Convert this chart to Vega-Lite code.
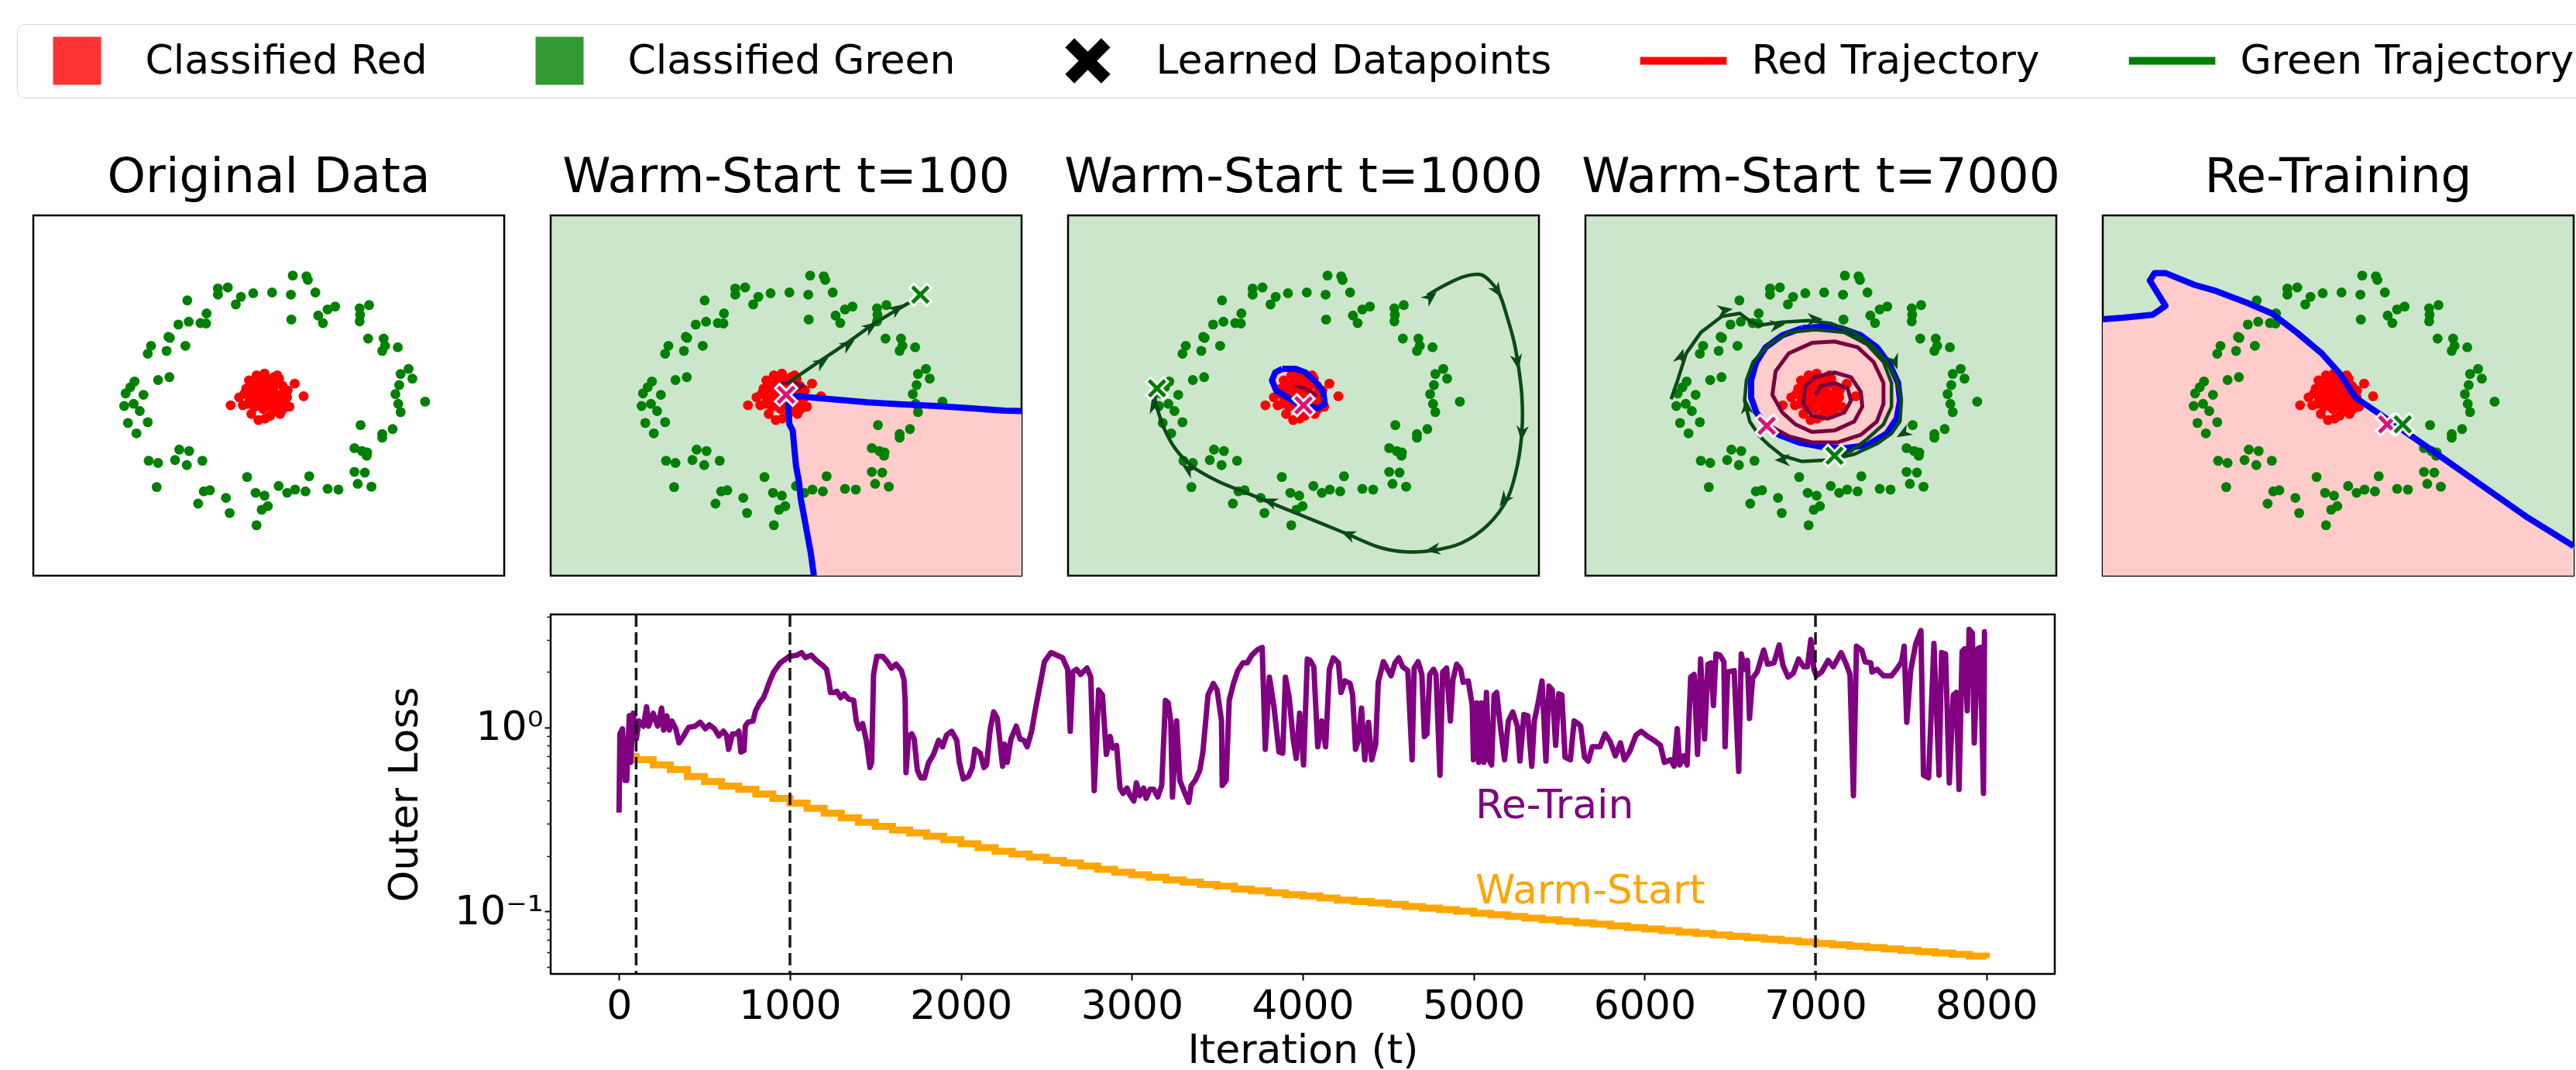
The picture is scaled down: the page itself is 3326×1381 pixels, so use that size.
{
"$schema":"https://vega.github.io/schema/vega-lite/v6.json",
"background":"white",
"padding":{"left":21,"top":30,"right":0,"bottom":0},
"config":{
 "font":"DejaVu Sans",
 "view":{"stroke":"black","strokeWidth":2.5},
 "title":{"fontSize":63,"fontWeight":"normal","color":"black","offset":17,"baseline":"alphabetic","anchor":"middle","font":"DejaVu Sans"},
 "axis":{"labelFont":"DejaVu Sans","titleFont":"DejaVu Sans","labelColor":"black","titleColor":"black","tickColor":"black","domain":false,"grid":false,"titleFontWeight":"normal"}
},
"datasets":{
"pts":[
{"x":55.1,"y":83.3,"c":"g"},{"x":58.0,"y":83.1,"c":"g"},{"x":58.3,"y":82.1,"c":"g"},{"x":59.9,"y":78.6,"c":"g"},{"x":54.7,"y":78.0,"c":"g"},{"x":50.7,"y":78.6,"c":"g"},{"x":46.7,"y":78.4,"c":"g"},{"x":44.1,"y":77.4,"c":"g"},{"x":43.0,"y":75.3,"c":"g"},{"x":39.2,"y":79.7,"c":"g"},{"x":41.3,"y":80.0,"c":"g"},{"x":39.2,"y":78.0,"c":"g"},{"x":32.7,"y":76.4,"c":"g"},{"x":36.8,"y":72.8,"c":"g"},{"x":35.5,"y":70.1,"c":"g"},{"x":36.7,"y":70.0,"c":"g"},{"x":33.0,"y":70.5,"c":"g"},{"x":30.8,"y":69.7,"c":"g"},{"x":28.7,"y":66.3,"c":"g"},{"x":29.0,"y":66.0,"c":"g"},{"x":28.3,"y":62.4,"c":"g"},{"x":32.3,"y":63.8,"c":"g"},{"x":25.0,"y":63.8,"c":"g"},{"x":24.3,"y":61.6,"c":"g"},{"x":54.8,"y":71.1,"c":"g"},{"x":60.5,"y":72.2,"c":"g"},{"x":61.5,"y":70.1,"c":"g"},{"x":62.5,"y":73.9,"c":"g"},{"x":64.1,"y":74.7,"c":"g"},{"x":69.3,"y":74.2,"c":"g"},{"x":71.3,"y":75.1,"c":"g"},{"x":69.4,"y":72.4,"c":"g"},{"x":69.3,"y":70.6,"c":"g"},{"x":71.1,"y":65.8,"c":"g"},{"x":74.4,"y":65.8,"c":"g"},{"x":74.7,"y":63.8,"c":"g"},{"x":74.1,"y":62.4,"c":"g"},{"x":77.4,"y":63.4,"c":"g"},
{"x":26.5,"y":54.3,"c":"g"},{"x":28.9,"y":55.1,"c":"g"},{"x":21.5,"y":53.9,"c":"g"},{"x":20.6,"y":52.3,"c":"g"},{"x":19.6,"y":50.6,"c":"g"},{"x":23.4,"y":50.2,"c":"g"},{"x":19.3,"y":47.1,"c":"g"},{"x":21.3,"y":47.7,"c":"g"},{"x":22.6,"y":45.7,"c":"g"},{"x":20.1,"y":42.4,"c":"g"},{"x":24.3,"y":42.6,"c":"g"},{"x":21.9,"y":39.5,"c":"g"},
{"x":79.7,"y":57.4,"c":"g"},{"x":78.0,"y":56.0,"c":"g"},{"x":80.5,"y":54.7,"c":"g"},{"x":77.7,"y":52.9,"c":"g"},{"x":76.9,"y":50.4,"c":"g"},{"x":77.5,"y":47.7,"c":"g"},{"x":78.0,"y":45.4,"c":"g"},{"x":83.2,"y":48.3,"c":"g"},{"x":69.5,"y":41.8,"c":"g"},{"x":76.3,"y":40.7,"c":"g"},{"x":74.1,"y":39.3,"c":"g"},{"x":74.1,"y":38.3,"c":"g"},
{"x":68.2,"y":35.4,"c":"g"},{"x":69.8,"y":34.6,"c":"g"},{"x":70.9,"y":34.2,"c":"g"},{"x":70.8,"y":33.3,"c":"g"},{"x":68.2,"y":28.8,"c":"g"},{"x":70.4,"y":28.6,"c":"g"},{"x":68.9,"y":25.5,"c":"g"},{"x":71.8,"y":24.7,"c":"g"},
{"x":58.6,"y":27.6,"c":"g"},{"x":52.1,"y":24.9,"c":"g"},{"x":53.9,"y":23.0,"c":"g"},{"x":55.6,"y":23.9,"c":"g"},{"x":57.8,"y":23.4,"c":"g"},{"x":62.5,"y":24.1,"c":"g"},{"x":64.8,"y":23.9,"c":"g"},{"x":45.4,"y":27.4,"c":"g"},{"x":47.2,"y":23.0,"c":"g"},{"x":49.1,"y":22.2,"c":"g"},{"x":49.8,"y":19.3,"c":"g"},{"x":48.5,"y":18.3,"c":"g"},{"x":47.4,"y":14.0,"c":"g"},{"x":40.9,"y":21.6,"c":"g"},{"x":41.7,"y":17.4,"c":"g"},{"x":35.0,"y":20.0,"c":"g"},{"x":36.2,"y":23.4,"c":"g"},{"x":37.5,"y":23.7,"c":"g"},
{"x":24.5,"y":31.9,"c":"g"},{"x":26.5,"y":31.3,"c":"g"},{"x":31.0,"y":35.0,"c":"g"},{"x":33.1,"y":34.6,"c":"g"},{"x":30.1,"y":32.1,"c":"g"},{"x":32.6,"y":30.7,"c":"g"},{"x":35.9,"y":31.9,"c":"g"},{"x":26.2,"y":24.6,"c":"g"},
{"x":41.9,"y":47.3,"c":"r"},{"x":43.7,"y":49.5,"c":"r"},{"x":44.5,"y":47.3,"c":"r"},{"x":57.4,"y":49.8,"c":"r"},{"x":55.5,"y":53.3,"c":"r"},{"x":49.1,"y":56.1,"c":"r"},{"x":47.8,"y":43.2,"c":"r"},{"x":52.4,"y":44.9,"c":"r"},{"x":54.4,"y":46.9,"c":"r"},{"x":51.8,"y":55.6,"c":"r"},{"x":45.8,"y":54.2,"c":"r"},{"x":45.2,"y":51.9,"c":"r"},{"x":46.3,"y":44.9,"c":"r"},{"x":50.3,"y":44.4,"c":"r"},{"x":53.3,"y":48.1,"c":"r"},{"x":51.1,"y":55.1,"c":"r"},{"x":47.4,"y":55.6,"c":"r"},{"x":54.0,"y":51.4,"c":"r"},{"x":48.8,"y":46.3,"c":"r"},{"x":51.8,"y":53.5,"c":"r"},{"x":46.7,"y":51.0,"c":"r"},{"x":48.1,"y":51.9,"c":"r"},{"x":49.6,"y":50.6,"c":"r"},{"x":51.1,"y":51.0,"c":"r"},{"x":52.5,"y":50.2,"c":"r"},{"x":48.9,"y":48.6,"c":"r"},{"x":50.3,"y":48.1,"c":"r"},{"x":47.4,"y":49.0,"c":"r"},{"x":51.8,"y":48.1,"c":"r"},{"x":49.6,"y":53.1,"c":"r"},{"x":47.8,"y":53.5,"c":"r"},{"x":51.1,"y":52.7,"c":"r"},{"x":48.9,"y":46.9,"c":"r"},{"x":50.7,"y":46.5,"c":"r"},{"x":47.0,"y":46.9,"c":"r"},{"x":52.9,"y":52.7,"c":"r"},{"x":45.9,"y":49.4,"c":"r"},{"x":53.3,"y":51.0,"c":"r"},{"x":48.5,"y":50.2,"c":"r"},{"x":50.0,"y":49.0,"c":"r"},{"x":49.2,"y":43.6,"c":"r"},{"x":51.4,"y":45.7,"c":"r"},{"x":45.6,"y":47.7,"c":"r"},{"x":52.2,"y":54.7,"c":"r"},{"x":46.5,"y":52.8,"c":"r"},{"x":53.0,"y":46.2,"c":"r"},{"x":49.9,"y":54.5,"c":"r"},{"x":50.9,"y":47.4,"c":"r"},{"x":47.9,"y":47.8,"c":"r"},{"x":52.0,"y":49.4,"c":"r"},{"x":46.8,"y":48.2,"c":"r"},{"x":49.4,"y":52.1,"c":"r"},{"x":53.9,"y":49.5,"c":"r"},{"x":48.4,"y":54.6,"c":"r"},{"x":50.6,"y":53.8,"c":"r"},{"x":44.8,"y":50.5,"c":"r"}
],
"p2":[{"x":50.4,"y":49.8,"y2":47.3},{"x":50.7,"y":49.8,"y2":42.0},{"x":51.4,"y":49.8,"y2":40.3},{"x":51.8,"y":49.8,"y2":34.6},{"x":52.1,"y":49.8,"y2":30.5},{"x":52.7,"y":49.7,"y2":26.3},{"x":53.1,"y":49.7,"y2":21.4},{"x":53.8,"y":49.6,"y2":16.5},{"x":54.5,"y":49.5,"y2":11.5},{"x":55.2,"y":49.5,"y2":6.6},{"x":55.9,"y":49.4,"y2":0},{"x":59.7,"y":49.0,"y2":0},{"x":67.3,"y":48.1,"y2":0},{"x":74.3,"y":47.6,"y2":0},{"x":81.9,"y":47.1,"y2":0},{"x":88.8,"y":46.5,"y2":0},{"x":96.4,"y":45.8,"y2":0},{"x":100,"y":45.7,"y2":0}],
"b2":[{"i":0,"x":55.9,"y":0},{"i":1,"x":55.2,"y":6.6},{"i":2,"x":54.5,"y":11.5},{"i":3,"x":53.8,"y":16.5},{"i":4,"x":53.1,"y":21.4},{"i":5,"x":52.7,"y":26.3},{"i":6,"x":52.1,"y":30.5},{"i":7,"x":51.8,"y":34.6},{"i":8,"x":51.4,"y":40.3},{"i":9,"x":50.7,"y":42.0},{"i":10,"x":50.4,"y":47.3},{"i":11,"x":51.5,"y":49.9},{"i":12,"x":59.7,"y":49.0},{"i":13,"x":67.3,"y":48.1},{"i":14,"x":74.3,"y":47.6},{"i":15,"x":81.9,"y":47.1},{"i":16,"x":88.8,"y":46.5},{"i":17,"x":96.4,"y":45.8},{"i":18,"x":100,"y":45.7}],
"rt2":[{"i":0,"x":47.3,"y":51.9},{"i":1,"x":49.3,"y":53.5},{"i":2,"x":52.1,"y":53.5},{"i":3,"x":53.5,"y":52.7},{"i":4,"x":50.0,"y":50.2}],
"gt2":[{"i":0,"x":50.4,"y":53.5},{"i":1,"x":56.3,"y":58.8},{"i":2,"x":62.5,"y":64.2},{"i":3,"x":68.7,"y":70.0},{"i":4,"x":72.9,"y":73.3},{"i":5,"x":76.3,"y":75.9},{"i":6,"x":78.5,"y":78.0}],
"p3":[{"x":43.3,"y":54.2,"y2":54.2},{"x":44.0,"y":56.4,"y2":51.9},{"x":45.5,"y":57.4,"y2":50.6},{"x":46.2,"y":57.4,"y2":49.8},{"x":48.3,"y":57.4,"y2":48.0},{"x":50.4,"y":56.4,"y2":47.2},{"x":51.1,"y":55.9,"y2":46.9},{"x":52.5,"y":53.9,"y2":46.6},{"x":53.1,"y":52.9,"y2":46.5},{"x":54.2,"y":51.0,"y2":47.0},{"x":54.5,"y":47.7,"y2":47.7}],
"b3":[{"i":0,"x":45.5,"y":57.4},{"i":1,"x":48.3,"y":57.4},{"i":2,"x":50.4,"y":56.4},{"i":3,"x":52.5,"y":53.9},{"i":4,"x":54.2,"y":51.0},{"i":5,"x":54.5,"y":47.7},{"i":6,"x":53.1,"y":46.5},{"i":7,"x":51.1,"y":46.9},{"i":8,"x":48.7,"y":47.7},{"i":9,"x":46.2,"y":49.8},{"i":10,"x":44.2,"y":51.4},{"i":11,"x":43.3,"y":54.2},{"i":12,"x":44.0,"y":56.4},{"i":13,"x":45.5,"y":57.4}],
"rt3":[{"i":0,"x":48.3,"y":52.7},{"i":1,"x":50.4,"y":51.9},{"i":2,"x":52.5,"y":50.2},{"i":3,"x":51.8,"y":48.6},{"i":4,"x":50.0,"y":47.3}],
"gt3":[{"i":0,"x":76.3,"y":77.8},{"i":1,"x":80.1,"y":80.7},{"i":2,"x":84.3,"y":83.1},{"i":3,"x":87.8,"y":83.5},{"i":4,"x":89.8,"y":81.5},{"i":5,"x":91.6,"y":78.2},{"i":6,"x":93.3,"y":71.6},{"i":7,"x":94.7,"y":65.0},{"i":8,"x":95.7,"y":57.6},{"i":9,"x":96.4,"y":49.4},{"i":10,"x":96.4,"y":40.3},{"i":11,"x":95.4,"y":30.5},{"i":12,"x":93.3,"y":21.4},{"i":13,"x":89.1,"y":14.0},{"i":14,"x":83.6,"y":9.1},{"i":15,"x":77.4,"y":7.0},{"i":16,"x":71.8,"y":6.6},{"i":17,"x":66.3,"y":7.8},{"i":18,"x":59.4,"y":11.5},{"i":19,"x":52.5,"y":15.2},{"i":20,"x":45.5,"y":18.9},{"i":21,"x":38.6,"y":22.6},{"i":22,"x":31.7,"y":26.3},{"i":23,"x":26.2,"y":30.5},{"i":24,"x":22.7,"y":35.4},{"i":25,"x":20.6,"y":40.3},{"i":26,"x":19.2,"y":45.3},{"i":27,"x":18.5,"y":49.0},{"i":28,"x":18.9,"y":52.0}],
"p4":[{"x":35.2,"y":54.3,"y2":49.4},{"x":36.3,"y":59.3,"y2":45.3},{"x":38.3,"y":63.4,"y2":42.0},{"x":41.5,"y":66.7,"y2":39.1},{"x":45.5,"y":68.7,"y2":37.0},{"x":50.1,"y":69.1,"y2":35.8},{"x":54.5,"y":68.7,"y2":35.4},{"x":58.5,"y":66.7,"y2":36.4},{"x":61.9,"y":63.4,"y2":38.5},{"x":64.3,"y":58.4,"y2":39.5},{"x":66.1,"y":53.5,"y2":43.6},{"x":66.8,"y":48.6,"y2":48.6}],
"b4":[{"i":0,"x":46.0,"y":68.7},{"i":1,"x":50.1,"y":69.1},{"i":2,"x":54.3,"y":68.7},{"i":3,"x":58.5,"y":66.7},{"i":4,"x":61.9,"y":63.4},{"i":5,"x":64.7,"y":58.4},{"i":6,"x":66.4,"y":53.5},{"i":7,"x":66.8,"y":48.6},{"i":8,"x":66.1,"y":43.6},{"i":9,"x":64.0,"y":39.5},{"i":10,"x":59.8,"y":36.2},{"i":11,"x":55.0,"y":35.4},{"i":12,"x":50.1,"y":35.8},{"i":13,"x":45.3,"y":37.0},{"i":14,"x":41.1,"y":39.1},{"i":15,"x":38.3,"y":42.0},{"i":16,"x":36.3,"y":45.3},{"i":17,"x":35.2,"y":49.4},{"i":18,"x":35.2,"y":54.3},{"i":19,"x":36.3,"y":59.3},{"i":20,"x":38.3,"y":63.4},{"i":21,"x":41.8,"y":66.7},{"i":22,"x":46.0,"y":68.7}],
"rt4":[{"i":0,"x":48.8,"y":50.2},{"i":1,"x":50.1,"y":52.7},{"i":2,"x":52.9,"y":53.5},{"i":3,"x":55.7,"y":51.9},{"i":4,"x":56.4,"y":48.6},{"i":5,"x":55.0,"y":45.3},{"i":6,"x":51.5,"y":43.6},{"i":7,"x":48.1,"y":44.4},{"i":8,"x":46.3,"y":47.7},{"i":9,"x":46.7,"y":52.7},{"i":10,"x":48.8,"y":55.1},{"i":11,"x":52.9,"y":56.4},{"i":12,"x":56.4,"y":55.1},{"i":13,"x":58.5,"y":51.0},{"i":14,"x":58.8,"y":46.9},{"i":15,"x":57.1,"y":42.8},{"i":16,"x":52.9,"y":40.3},{"i":17,"x":48.1,"y":39.9},{"i":18,"x":44.6,"y":42.0},{"i":19,"x":41.8,"y":45.3},{"i":20,"x":39.7,"y":50.2},{"i":21,"x":40.4,"y":56.8},{"i":22,"x":43.2,"y":61.7},{"i":23,"x":48.1,"y":64.6},{"i":24,"x":52.9,"y":65.0},{"i":25,"x":57.8,"y":63.4},{"i":26,"x":61.2,"y":59.3},{"i":27,"x":63.3,"y":53.5},{"i":28,"x":63.3,"y":47.7},{"i":29,"x":61.9,"y":42.8},{"i":30,"x":58.5,"y":39.1},{"i":31,"x":53.6,"y":37.0},{"i":32,"x":48.1,"y":37.0},{"i":33,"x":43.2,"y":38.7},{"i":34,"x":39.7,"y":41.2},{"i":35,"x":38.5,"y":41.6}],
"gt4":[{"i":0,"x":18.2,"y":49.0},{"i":1,"x":19.6,"y":54.3},{"i":2,"x":21.4,"y":61.7},{"i":3,"x":24.5,"y":67.5},{"i":4,"x":29.0,"y":72.0},{"i":5,"x":32.8,"y":72.8},{"i":6,"x":35.2,"y":70.4},{"i":7,"x":37.0,"y":69.5},{"i":8,"x":41.8,"y":70.4},{"i":9,"x":47.4,"y":70.8},{"i":10,"x":52.2,"y":70.0},{"i":11,"x":57.1,"y":67.5},{"i":12,"x":61.2,"y":63.4},{"i":13,"x":64.0,"y":59.3},{"i":14,"x":66.1,"y":54.3},{"i":15,"x":67.1,"y":48.6},{"i":16,"x":66.8,"y":42.8},{"i":17,"x":65.0,"y":39.5},{"i":18,"x":61.9,"y":36.6},{"i":19,"x":57.1,"y":33.7},{"i":20,"x":51.5,"y":32.1},{"i":21,"x":46.0,"y":31.7},{"i":22,"x":41.8,"y":33.3},{"i":23,"x":39.0,"y":36.2},{"i":24,"x":37.0,"y":38.7},{"i":25,"x":34.9,"y":42.8},{"i":26,"x":33.8,"y":48.6},{"i":27,"x":34.2,"y":54.3},{"i":28,"x":35.6,"y":59.3},{"i":29,"x":39.0,"y":64.2},{"i":30,"x":43.2,"y":67.5},{"i":31,"x":48.8,"y":68.3},{"i":32,"x":55.0,"y":67.5},{"i":33,"x":59.8,"y":64.2},{"i":34,"x":63.3,"y":59.3},{"i":35,"x":65.0,"y":53.5},{"i":36,"x":65.0,"y":46.9},{"i":37,"x":63.3,"y":42.0},{"i":38,"x":59.8,"y":37.9},{"i":39,"x":56.4,"y":34.6},{"i":40,"x":52.9,"y":33.3}],
"p5":[{"x":0,"y":71.2,"y2":0},{"x":4.4,"y":71.6,"y2":0},{"x":9.99,"y":72.3,"y2":0},{"x":10.0,"y":81.9,"y2":0},{"x":11.0,"y":84.0,"y2":0},{"x":13.3,"y":84.0,"y2":0},{"x":19.5,"y":80.7,"y2":0},{"x":24.1,"y":79.0,"y2":0},{"x":30.7,"y":75.7,"y2":0},{"x":35.9,"y":72.8,"y2":0},{"x":41.2,"y":67.5,"y2":0},{"x":46.5,"y":61.7,"y2":0},{"x":50.4,"y":56.0,"y2":0},{"x":53.7,"y":49.4,"y2":0},{"x":60.2,"y":43.6,"y2":0},{"x":70.1,"y":34.6,"y2":0},{"x":80.0,"y":25.5,"y2":0},{"x":89.8,"y":16.5,"y2":0},{"x":100,"y":8.2,"y2":0}],
"n5":[{"x":10.0,"y":72.3,"y2":81.9},{"x":10.6,"y":72.4,"y2":80.6},{"x":13.3,"y":74.9,"y2":74.9}],
"b5":[{"i":0,"x":0,"y":71.2},{"i":1,"x":4.4,"y":71.6},{"i":2,"x":10.6,"y":72.4},{"i":3,"x":13.3,"y":74.9},{"i":4,"x":10.0,"y":81.9},{"i":5,"x":11.0,"y":84.0},{"i":6,"x":13.3,"y":84.0},{"i":7,"x":19.5,"y":80.7},{"i":8,"x":24.1,"y":79.0},{"i":9,"x":30.7,"y":75.7},{"i":10,"x":35.9,"y":72.8},{"i":11,"x":41.2,"y":67.5},{"i":12,"x":46.5,"y":61.7},{"i":13,"x":50.4,"y":56.0},{"i":14,"x":53.7,"y":49.4},{"i":15,"x":60.2,"y":43.6},{"i":16,"x":70.1,"y":34.6},{"i":17,"x":80.0,"y":25.5},{"i":18,"x":89.8,"y":16.5},{"i":19,"x":100,"y":8.2}],
"ar":[{"p":2,"x":57.6,"y":59.3,"a":-34},{"p":2,"x":63.2,"y":64.2,"a":-34},{"p":2,"x":68.0,"y":69.1,"a":-34},{"p":2,"x":73.6,"y":74.1,"a":-34},
{"p":3,"x":77.0,"y":77.3,"a":-40},{"p":3,"x":91.2,"y":79.0,"a":56},{"p":3,"x":95.4,"y":59.3,"a":80},{"p":3,"x":96.4,"y":39.5,"a":95},{"p":3,"x":92.6,"y":21.0,"a":126},{"p":3,"x":77.4,"y":7.2,"a":171},{"p":3,"x":59.4,"y":11.5,"a":-158},{"p":3,"x":42.8,"y":20.6,"a":-158},{"p":3,"x":25.5,"y":29.6,"a":-145},{"p":3,"x":18.2,"y":47.3,"a":-104},
{"p":4,"x":20.3,"y":60.9,"a":-73},{"p":4,"x":29.7,"y":73.7,"a":-9},{"p":4,"x":40.8,"y":69.5,"a":-7},{"p":4,"x":48.8,"y":71.2,"a":0},{"p":4,"x":65.7,"y":59.3,"a":70},{"p":4,"x":67.5,"y":39.5,"a":150},{"p":4,"x":41.8,"y":32.1,"a":180},{"p":4,"x":34.2,"y":47.0,"a":-95}],
"cx":[{"p":2,"x":50.0,"y":50.2,"k":"r"},{"p":2,"x":78.5,"y":78.0,"k":"g"},{"p":3,"x":50.0,"y":47.3,"k":"r"},{"p":3,"x":18.9,"y":52.0,"k":"g"},{"p":4,"x":38.5,"y":41.6,"k":"r"},{"p":4,"x":52.9,"y":33.3,"k":"g"},{"p":5,"x":60.4,"y":42.0,"k":"r"},{"p":5,"x":63.7,"y":42.0,"k":"g"}],
"leg":[{"item":"Classified Red"},{"item":"Classified Green"},{"item":"Learned Datapoints"},{"item":"Red Trajectory"},{"item":"Green Trajectory"}],
"warm":[{"t":0,"v":0.694},{"t":100,"v":0.667},{"t":200,"v":0.625},{"t":300,"v":0.590},{"t":400,"v":0.541},{"t":500,"v":0.507},{"t":600,"v":0.480},{"t":700,"v":0.460},{"t":800,"v":0.435},{"t":900,"v":0.411},{"t":1000,"v":0.388},{"t":1100,"v":0.363},{"t":1200,"v":0.342},{"t":1300,"v":0.322},{"t":1400,"v":0.305},{"t":1500,"v":0.290},{"t":1600,"v":0.277},{"t":1700,"v":0.267},{"t":1800,"v":0.256},{"t":1900,"v":0.245},{"t":2000,"v":0.233},{"t":2100,"v":0.222},{"t":2200,"v":0.212},{"t":2300,"v":0.205},{"t":2400,"v":0.197},{"t":2500,"v":0.189},{"t":2600,"v":0.183},{"t":2700,"v":0.176},{"t":2800,"v":0.169},{"t":2900,"v":0.163},{"t":3000,"v":0.158},{"t":3100,"v":0.153},{"t":3200,"v":0.148},{"t":3300,"v":0.144},{"t":3400,"v":0.140},{"t":3500,"v":0.137},{"t":3600,"v":0.132},{"t":3700,"v":0.129},{"t":3800,"v":0.126},{"t":3900,"v":0.123},{"t":4000,"v":0.121},{"t":4100,"v":0.118},{"t":4200,"v":0.115},{"t":4300,"v":0.113},{"t":4400,"v":0.111},{"t":4500,"v":0.109},{"t":4600,"v":0.106},{"t":4700,"v":0.104},{"t":4800,"v":0.102},{"t":4900,"v":0.100},{"t":5000,"v":0.0975},{"t":5100,"v":0.0955},{"t":5200,"v":0.0937},{"t":5300,"v":0.0918},{"t":5400,"v":0.0900},{"t":5500,"v":0.0883},{"t":5600,"v":0.0866},{"t":5700,"v":0.0850},{"t":5800,"v":0.0833},{"t":5900,"v":0.0815},{"t":6000,"v":0.0800},{"t":6100,"v":0.0785},{"t":6200,"v":0.0771},{"t":6300,"v":0.0757},{"t":6400,"v":0.0743},{"t":6500,"v":0.0730},{"t":6600,"v":0.0717},{"t":6700,"v":0.0704},{"t":6800,"v":0.0692},{"t":6900,"v":0.0680},{"t":7000,"v":0.0668},{"t":7100,"v":0.0656},{"t":7200,"v":0.0645},{"t":7300,"v":0.0634},{"t":7400,"v":0.0623},{"t":7500,"v":0.0613},{"t":7600,"v":0.0603},{"t":7700,"v":0.0593},{"t":7800,"v":0.0583},{"t":7900,"v":0.0570},{"t":8000,"v":0.0558}],
"retrain":[{"t":0,"v":0.344},{"t":5,"v":0.922},{"t":20,"v":0.984},{"t":35,"v":0.515},{"t":45,"v":0.515},{"t":60,"v":1.157},{"t":68,"v":0.646},{"t":83,"v":1.195},{"t":101,"v":0.865},{"t":116,"v":1.084},{"t":143,"v":1.016},{"t":161,"v":1.295},{"t":173,"v":1.016},{"t":200,"v":1.195},{"t":226,"v":1.016},{"t":249,"v":1.274},{"t":261,"v":0.968},{"t":279,"v":1.156},{"t":294,"v":0.968},{"t":309,"v":1.084},{"t":332,"v":0.984},{"t":351,"v":0.824},{"t":381,"v":0.908},{"t":407,"v":1.0},{"t":445,"v":1.016},{"t":475,"v":1.067},{"t":505,"v":0.984},{"t":528,"v":1.033},{"t":558,"v":0.984},{"t":584,"v":0.899},{"t":611,"v":0.953},{"t":629,"v":0.908},{"t":641,"v":0.760},{"t":664,"v":0.923},{"t":686,"v":0.923},{"t":701,"v":0.953},{"t":713,"v":0.736},{"t":731,"v":0.748},{"t":739,"v":1.016},{"t":754,"v":1.067},{"t":784,"v":1.084},{"t":799,"v":1.234},{"t":822,"v":1.360},{"t":845,"v":1.451},{"t":860,"v":1.573},{"t":882,"v":1.790},{"t":905,"v":2.004},{"t":943,"v":2.244},{"t":995,"v":2.432},{"t":1041,"v":2.473},{"t":1068,"v":2.553},{"t":1091,"v":2.394},{"t":1124,"v":2.473},{"t":1154,"v":2.318},{"t":1192,"v":2.173},{"t":1214,"v":2.070},{"t":1229,"v":1.762},{"t":1237,"v":1.548},{"t":1259,"v":1.548},{"t":1274,"v":1.574},{"t":1297,"v":1.452},{"t":1317,"v":1.524},{"t":1342,"v":1.429},{"t":1373,"v":1.403},{"t":1388,"v":1.084},{"t":1403,"v":0.984},{"t":1425,"v":1.050},{"t":1448,"v":0.838},{"t":1468,"v":0.606},{"t":1478,"v":0.646},{"t":1489,"v":1.941},{"t":1508,"v":2.432},{"t":1543,"v":2.432},{"t":1569,"v":2.280},{"t":1594,"v":2.104},{"t":1621,"v":2.208},{"t":1652,"v":2.037},{"t":1667,"v":1.820},{"t":1674,"v":1.403},{"t":1679,"v":0.568},{"t":1694,"v":0.893},{"t":1712,"v":0.923},{"t":1727,"v":0.865},{"t":1745,"v":0.586},{"t":1765,"v":0.532},{"t":1787,"v":0.532},{"t":1810,"v":0.640},{"t":1840,"v":0.713},{"t":1870,"v":0.851},{"t":1893,"v":0.785},{"t":1916,"v":0.908},{"t":1946,"v":0.953},{"t":1976,"v":0.851},{"t":1991,"v":0.646},{"t":2014,"v":0.524},{"t":2044,"v":0.541},{"t":2067,"v":0.605},{"t":2082,"v":0.760},{"t":2113,"v":0.724},{"t":2135,"v":0.605},{"t":2150,"v":0.625},{"t":2172,"v":0.984},{"t":2192,"v":1.214},{"t":2213,"v":1.119},{"t":2225,"v":0.893},{"t":2244,"v":0.615},{"t":2256,"v":0.811},{"t":2271,"v":0.646},{"t":2293,"v":0.865},{"t":2324,"v":1.016},{"t":2346,"v":0.865},{"t":2369,"v":0.851},{"t":2388,"v":0.785},{"t":2414,"v":0.953},{"t":2436,"v":1.254},{"t":2459,"v":1.625},{"t":2489,"v":2.280},{"t":2527,"v":2.553},{"t":2595,"v":2.393},{"t":2625,"v":2.070},{"t":2640,"v":0.953},{"t":2655,"v":2.004},{"t":2677,"v":2.070},{"t":2700,"v":1.941},{"t":2738,"v":2.104},{"t":2760,"v":1.879},{"t":2780,"v":0.453},{"t":2806,"v":1.600},{"t":2828,"v":1.500},{"t":2851,"v":0.713},{"t":2873,"v":0.893},{"t":2888,"v":0.773},{"t":2911,"v":0.798},{"t":2931,"v":0.468},{"t":2949,"v":0.438},{"t":2972,"v":0.468},{"t":2987,"v":0.432},{"t":3012,"v":0.398},{"t":3027,"v":0.499},{"t":3046,"v":0.425},{"t":3069,"v":0.468},{"t":3084,"v":0.411},{"t":3106,"v":0.460},{"t":3129,"v":0.460},{"t":3152,"v":0.418},{"t":3175,"v":0.483},{"t":3197,"v":1.403},{"t":3213,"v":1.360},{"t":3228,"v":1.084},{"t":3238,"v":0.418},{"t":3262,"v":1.084},{"t":3281,"v":0.515},{"t":3311,"v":0.438},{"t":3333,"v":0.391},{"t":3348,"v":0.483},{"t":3371,"v":0.515},{"t":3398,"v":0.586},{"t":3416,"v":0.736},{"t":3446,"v":1.500},{"t":3477,"v":1.733},{"t":3499,"v":1.600},{"t":3525,"v":1.084},{"t":3529,"v":0.483},{"t":3552,"v":0.515},{"t":3570,"v":1.403},{"t":3597,"v":1.762},{"t":3620,"v":2.037},{"t":3650,"v":2.244},{"t":3675,"v":2.244},{"t":3702,"v":2.472},{"t":3733,"v":2.637},{"t":3763,"v":2.725},{"t":3781,"v":0.760},{"t":3805,"v":1.879},{"t":3831,"v":1.315},{"t":3861,"v":0.736},{"t":3883,"v":0.724},{"t":3899,"v":1.879},{"t":3921,"v":1.452},{"t":3944,"v":0.865},{"t":3962,"v":0.678},{"t":3982,"v":1.194},{"t":4005,"v":0.625},{"t":4027,"v":2.355},{"t":4043,"v":2.318},{"t":4065,"v":2.138},{"t":4088,"v":0.785},{"t":4111,"v":1.084},{"t":4134,"v":0.785},{"t":4156,"v":2.070},{"t":4179,"v":2.393},{"t":4209,"v":2.244},{"t":4224,"v":1.549},{"t":4247,"v":1.791},{"t":4277,"v":1.734},{"t":4292,"v":1.500},{"t":4309,"v":0.760},{"t":4324,"v":0.838},{"t":4344,"v":1.274},{"t":4363,"v":0.667},{"t":4385,"v":1.067},{"t":4404,"v":0.667},{"t":4427,"v":0.811},{"t":4442,"v":1.762},{"t":4472,"v":2.280},{"t":4517,"v":1.910},{"t":4540,"v":2.244},{"t":4562,"v":2.393},{"t":4585,"v":2.138},{"t":4615,"v":2.037},{"t":4640,"v":0.667},{"t":4652,"v":2.104},{"t":4675,"v":2.280},{"t":4697,"v":1.941},{"t":4712,"v":0.893},{"t":4727,"v":0.923},{"t":4743,"v":1.941},{"t":4765,"v":2.070},{"t":4780,"v":1.941},{"t":4803,"v":0.550},{"t":4819,"v":2.004},{"t":4842,"v":2.104},{"t":4864,"v":1.084},{"t":4879,"v":1.820},{"t":4901,"v":2.208},{"t":4924,"v":2.070},{"t":4939,"v":1.762},{"t":4969,"v":1.791},{"t":4992,"v":1.315},{"t":4999,"v":0.667},{"t":5018,"v":1.358},{"t":5030,"v":0.646},{"t":5045,"v":1.358},{"t":5060,"v":0.646},{"t":5075,"v":1.549},{"t":5090,"v":0.667},{"t":5105,"v":0.625},{"t":5120,"v":1.500},{"t":5135,"v":1.549},{"t":5158,"v":0.984},{"t":5181,"v":0.667},{"t":5203,"v":1.084},{"t":5229,"v":1.213},{"t":5256,"v":1.016},{"t":5271,"v":0.656},{"t":5294,"v":1.175},{"t":5317,"v":1.156},{"t":5340,"v":0.615},{"t":5355,"v":1.084},{"t":5377,"v":1.358},{"t":5400,"v":1.791},{"t":5423,"v":0.656},{"t":5441,"v":1.679},{"t":5460,"v":1.600},{"t":5480,"v":0.798},{"t":5498,"v":1.524},{"t":5516,"v":1.500},{"t":5535,"v":0.689},{"t":5566,"v":0.667},{"t":5588,"v":1.084},{"t":5611,"v":1.050},{"t":5626,"v":1.016},{"t":5649,"v":0.689},{"t":5671,"v":0.656},{"t":5694,"v":0.785},{"t":5739,"v":0.785},{"t":5769,"v":0.923},{"t":5799,"v":0.838},{"t":5829,"v":0.700},{"t":5859,"v":0.824},{"t":5882,"v":0.667},{"t":5912,"v":0.736},{"t":5950,"v":0.908},{"t":5980,"v":0.953},{"t":6018,"v":0.893},{"t":6055,"v":0.851},{"t":6093,"v":0.798},{"t":6116,"v":0.646},{"t":6153,"v":0.667},{"t":6173,"v":0.615},{"t":6191,"v":0.984},{"t":6206,"v":0.625},{"t":6229,"v":0.700},{"t":6249,"v":0.625},{"t":6270,"v":1.879},{"t":6290,"v":1.941},{"t":6310,"v":0.713},{"t":6328,"v":2.355},{"t":6351,"v":0.865},{"t":6371,"v":2.208},{"t":6388,"v":2.244},{"t":6403,"v":1.315},{"t":6418,"v":2.512},{"t":6441,"v":2.472},{"t":6464,"v":2.280},{"t":6471,"v":0.785},{"t":6486,"v":2.004},{"t":6524,"v":2.037},{"t":6551,"v":0.577},{"t":6566,"v":2.512},{"t":6584,"v":2.070},{"t":6602,"v":2.318},{"t":6614,"v":1.119},{"t":6632,"v":1.849},{"t":6659,"v":2.004},{"t":6697,"v":2.637},{"t":6720,"v":2.208},{"t":6757,"v":2.244},{"t":6788,"v":2.812},{"t":6810,"v":2.173},{"t":6840,"v":1.879},{"t":6870,"v":1.972},{"t":6901,"v":2.355},{"t":6931,"v":2.138},{"t":6953,"v":2.138},{"t":6973,"v":3.006},{"t":6991,"v":2.070},{"t":7006,"v":1.910},{"t":7036,"v":2.004},{"t":7074,"v":2.318},{"t":7104,"v":2.138},{"t":7150,"v":2.553},{"t":7180,"v":2.208},{"t":7202,"v":1.941},{"t":7222,"v":0.425},{"t":7240,"v":2.767},{"t":7271,"v":2.637},{"t":7290,"v":2.280},{"t":7324,"v":2.244},{"t":7331,"v":2.004},{"t":7361,"v":2.070},{"t":7398,"v":1.910},{"t":7444,"v":1.910},{"t":7474,"v":2.070},{"t":7504,"v":2.280},{"t":7519,"v":2.767},{"t":7534,"v":1.067},{"t":7557,"v":2.037},{"t":7587,"v":2.864},{"t":7617,"v":3.365},{"t":7632,"v":0.550},{"t":7662,"v":0.532},{"t":7693,"v":2.864},{"t":7723,"v":0.550},{"t":7738,"v":2.553},{"t":7761,"v":2.512},{"t":7783,"v":0.499},{"t":7806,"v":1.500},{"t":7824,"v":1.549},{"t":7840,"v":0.460},{"t":7858,"v":2.594},{"t":7873,"v":2.679},{"t":7888,"v":1.233},{"t":7899,"v":3.420},{"t":7918,"v":3.258},{"t":7929,"v":0.824},{"t":7949,"v":2.679},{"t":7964,"v":2.723},{"t":7983,"v":0.438},{"t":7989,"v":3.311},{"t":8001,"v":3.311}],
"vl":[{"t":100},{"t":1000},{"t":7000}],
"ann":[{"t":5010,"v":0.32,"label":"Re-Train"},{"t":5010,"v":0.11,"label":"Warm-Start"}]
},
"spacing":45,
"vconcat":[
{"bounds":"flush","spacing":60,"hconcat":[
 {"width":608,"height":465,"title":"Original Data",
  "encoding":{"x":{"field":"x","type":"quantitative","scale":{"domain":[0,100],"nice":false,"zero":false},"axis":null},"y":{"field":"y","type":"quantitative","scale":{"domain":[0,100],"nice":false,"zero":false},"axis":null}},
  "layer":[
   {"data":{"name":"pts"},"transform":[{"filter":"datum.c == 'g'"}],"mark":{"type":"circle","size":165,"opacity":1,"color":"#008000"}},
   {"data":{"name":"pts"},"transform":[{"filter":"datum.c == 'r'"}],"mark":{"type":"circle","size":165,"opacity":1,"color":"#ff0000"}},
   {"data":{"name":"leg"},
    "mark":{"type":"point","filled":true,"size":0},
    "encoding":{
     "x":{"datum":50,"type":"quantitative"},
     "y":{"datum":50,"type":"quantitative"},
     "color":{"field":"item","type":"nominal","scale":{"domain":["Classified Red","Classified Green","Learned Datapoints","Red Trajectory","Green Trajectory"],"range":["#ff3333","#339933","#000000","#ff0000","#008000"]},
       "legend":{"title":null,"orient":"none","legendX":-21,"legendY":-247,"direction":"horizontal","columns":5,"symbolSize":3844,"symbolStrokeWidth":0,"symbolOpacity":1,"symbolFillColor":"#000000","symbolOffset":30,"labelFont":"DejaVu Sans","labelFontSize":52,"labelColor":"black","labelOffset":57,"labelLimit":1000,"columnPadding":109,"padding":16.5,"strokeColor":"#d3d3d3","cornerRadius":10,"fillColor":"white"}},
     "shape":{"field":"item","type":"nominal","scale":{"domain":["Classified Red","Classified Green","Learned Datapoints","Red Trajectory","Green Trajectory"],"range":["M-1.8,-1M1.8,1M-1,-1L1,-1L1,1L-1,1Z","M-1.8,-1M1.8,1M-1,-1L1,-1L1,1L-1,1Z","M-1.8,-1M1.8,1M0,-0.38L0.56,-0.94L0.94,-0.56L0.38,0L0.94,0.56L0.56,0.94L0,0.38L-0.56,0.94L-0.94,0.56L-0.38,0L-0.94,-0.56L-0.56,-0.94Z","M-1.8,-1M1.8,1M-1.8,-0.16L1.8,-0.16L1.8,0.16L-1.8,0.16Z","M-1.8,-1M1.8,1M-1.8,-0.16L1.8,-0.16L1.8,0.16L-1.8,0.16Z"]},
       "legend":{"title":null,"orient":"none","legendX":-21,"legendY":-247,"direction":"horizontal","columns":5,"symbolSize":3844,"symbolStrokeWidth":0,"symbolOpacity":1,"symbolFillColor":"#000000","symbolOffset":30,"labelFont":"DejaVu Sans","labelFontSize":52,"labelColor":"black","labelOffset":57,"labelLimit":1000,"columnPadding":109,"padding":16.5,"strokeColor":"#d3d3d3","cornerRadius":10,"fillColor":"white"}}
    }}
  ]},
 {"width":608,"height":465,"title":"Warm-Start t=100","view":{"fill":"#cce6cc"},
  "encoding":{"x":{"field":"x","type":"quantitative","scale":{"domain":[0,100],"nice":false,"zero":false},"axis":null},"y":{"field":"y","type":"quantitative","scale":{"domain":[0,100],"nice":false,"zero":false},"axis":null}},
  "layer":[
   {"data":{"name":"p2"},"mark":{"type":"area","color":"#ffcccc","opacity":1,"clip":true},"encoding":{"y2":{"field":"y2"}}},
   {"data":{"name":"pts"},"transform":[{"filter":"datum.c == 'g'"}],"mark":{"type":"circle","size":165,"opacity":1,"color":"#008000"}},
   {"data":{"name":"pts"},"transform":[{"filter":"datum.c == 'r'"}],"mark":{"type":"circle","size":165,"opacity":1,"color":"#ff0000"}},
   {"data":{"name":"b2"},"mark":{"type":"line","color":"#0000ff","strokeWidth":8,"clip":true,"strokeJoin":"round"},"encoding":{"order":{"field":"i"}}},
   {"data":{"name":"rt2"},"mark":{"type":"line","color":"#780040","strokeWidth":4.5,"clip":true},"encoding":{"order":{"field":"i"}}},
   {"data":{"name":"gt2"},"mark":{"type":"line","color":"#0b4a17","strokeWidth":4.5,"clip":true},"encoding":{"order":{"field":"i"}}},
   {"data":{"name":"ar"},"transform":[{"filter":"datum.p == 2"}],"mark":{"type":"point","shape":"M1,0L-1,-0.8L-0.4,0L-1,0.8Z","filled":true,"color":"#0b4a17","size":400,"opacity":1,"strokeWidth":0},"encoding":{"angle":{"field":"a","type":"quantitative","scale":null}}},
   {"data":{"name":"cx"},"transform":[{"filter":"datum.p == 2 && datum.k == 'r'"}],"mark":{"type":"point","shape":"M0,-0.4L0.6,-1L1,-0.6L0.4,0L1,0.6L0.6,1L0,0.4L-0.6,1L-1,0.6L-0.4,0L-1,-0.6L-0.6,-1Z","filled":true,"size":800,"opacity":1,"color":"#dd1177","stroke":"white","strokeWidth":3}},
   {"data":{"name":"cx"},"transform":[{"filter":"datum.p == 2 && datum.k == 'g'"}],"mark":{"type":"point","shape":"M0,-0.4L0.6,-1L1,-0.6L0.4,0L1,0.6L0.6,1L0,0.4L-0.6,1L-1,0.6L-0.4,0L-1,-0.6L-0.6,-1Z","filled":true,"size":800,"opacity":1,"color":"#008000","stroke":"white","strokeWidth":3}}
  ]},
 {"width":608,"height":465,"title":"Warm-Start t=1000","view":{"fill":"#cce6cc"},
  "encoding":{"x":{"field":"x","type":"quantitative","scale":{"domain":[0,100],"nice":false,"zero":false},"axis":null},"y":{"field":"y","type":"quantitative","scale":{"domain":[0,100],"nice":false,"zero":false},"axis":null}},
  "layer":[
   {"data":{"name":"p3"},"mark":{"type":"area","color":"#ffcccc","opacity":1,"clip":true},"encoding":{"y2":{"field":"y2"}}},
   {"data":{"name":"pts"},"transform":[{"filter":"datum.c == 'g'"}],"mark":{"type":"circle","size":165,"opacity":1,"color":"#008000"}},
   {"data":{"name":"pts"},"transform":[{"filter":"datum.c == 'r'"}],"mark":{"type":"circle","size":165,"opacity":1,"color":"#ff0000"}},
   {"data":{"name":"b3"},"mark":{"type":"line","color":"#0000ff","strokeWidth":8,"clip":true,"strokeJoin":"round"},"encoding":{"order":{"field":"i"}}},
   {"data":{"name":"rt3"},"mark":{"type":"line","color":"#780040","strokeWidth":4.5,"clip":true},"encoding":{"order":{"field":"i"}}},
   {"data":{"name":"gt3"},"mark":{"type":"line","color":"#0b4a17","strokeWidth":4.5,"clip":true,"interpolate":"catmull-rom"},"encoding":{"order":{"field":"i"}}},
   {"data":{"name":"ar"},"transform":[{"filter":"datum.p == 3"}],"mark":{"type":"point","shape":"M1,0L-1,-0.8L-0.4,0L-1,0.8Z","filled":true,"color":"#0b4a17","size":400,"opacity":1,"strokeWidth":0},"encoding":{"angle":{"field":"a","type":"quantitative","scale":null}}},
   {"data":{"name":"cx"},"transform":[{"filter":"datum.p == 3 && datum.k == 'r'"}],"mark":{"type":"point","shape":"M0,-0.4L0.6,-1L1,-0.6L0.4,0L1,0.6L0.6,1L0,0.4L-0.6,1L-1,0.6L-0.4,0L-1,-0.6L-0.6,-1Z","filled":true,"size":800,"opacity":1,"color":"#dd1177","stroke":"white","strokeWidth":3}},
   {"data":{"name":"cx"},"transform":[{"filter":"datum.p == 3 && datum.k == 'g'"}],"mark":{"type":"point","shape":"M0,-0.4L0.6,-1L1,-0.6L0.4,0L1,0.6L0.6,1L0,0.4L-0.6,1L-1,0.6L-0.4,0L-1,-0.6L-0.6,-1Z","filled":true,"size":800,"opacity":1,"color":"#008000","stroke":"white","strokeWidth":3}}
  ]},
 {"width":608,"height":465,"title":"Warm-Start t=7000","view":{"fill":"#cce6cc"},
  "encoding":{"x":{"field":"x","type":"quantitative","scale":{"domain":[0,100],"nice":false,"zero":false},"axis":null},"y":{"field":"y","type":"quantitative","scale":{"domain":[0,100],"nice":false,"zero":false},"axis":null}},
  "layer":[
   {"data":{"name":"p4"},"mark":{"type":"area","color":"#ffcccc","opacity":1,"clip":true},"encoding":{"y2":{"field":"y2"}}},
   {"data":{"name":"pts"},"transform":[{"filter":"datum.c == 'g'"}],"mark":{"type":"circle","size":165,"opacity":1,"color":"#008000"}},
   {"data":{"name":"pts"},"transform":[{"filter":"datum.c == 'r'"}],"mark":{"type":"circle","size":165,"opacity":1,"color":"#ff0000"}},
   {"data":{"name":"b4"},"mark":{"type":"line","color":"#0000ff","strokeWidth":8,"clip":true,"strokeJoin":"round"},"encoding":{"order":{"field":"i"}}},
   {"data":{"name":"rt4"},"mark":{"type":"line","color":"#780040","strokeWidth":5,"clip":true,"strokeJoin":"round"},"encoding":{"order":{"field":"i"}}},
   {"data":{"name":"gt4"},"mark":{"type":"line","color":"#0b4a17","strokeWidth":4.5,"clip":true,"strokeJoin":"round"},"encoding":{"order":{"field":"i"}}},
   {"data":{"name":"ar"},"transform":[{"filter":"datum.p == 4"}],"mark":{"type":"point","shape":"M1,0L-1,-0.8L-0.4,0L-1,0.8Z","filled":true,"color":"#0b4a17","size":400,"opacity":1,"strokeWidth":0},"encoding":{"angle":{"field":"a","type":"quantitative","scale":null}}},
   {"data":{"name":"cx"},"transform":[{"filter":"datum.p == 4 && datum.k == 'r'"}],"mark":{"type":"point","shape":"M0,-0.4L0.6,-1L1,-0.6L0.4,0L1,0.6L0.6,1L0,0.4L-0.6,1L-1,0.6L-0.4,0L-1,-0.6L-0.6,-1Z","filled":true,"size":800,"opacity":1,"color":"#dd1177","stroke":"white","strokeWidth":3}},
   {"data":{"name":"cx"},"transform":[{"filter":"datum.p == 4 && datum.k == 'g'"}],"mark":{"type":"point","shape":"M0,-0.4L0.6,-1L1,-0.6L0.4,0L1,0.6L0.6,1L0,0.4L-0.6,1L-1,0.6L-0.4,0L-1,-0.6L-0.6,-1Z","filled":true,"size":800,"opacity":1,"color":"#008000","stroke":"white","strokeWidth":3}}
  ]},
 {"width":608,"height":465,"title":"Re-Training","view":{"fill":"#cce6cc"},
  "encoding":{"x":{"field":"x","type":"quantitative","scale":{"domain":[0,100],"nice":false,"zero":false},"axis":null},"y":{"field":"y","type":"quantitative","scale":{"domain":[0,100],"nice":false,"zero":false},"axis":null}},
  "layer":[
   {"data":{"name":"p5"},"mark":{"type":"area","color":"#ffcccc","opacity":1,"clip":true},"encoding":{"y2":{"field":"y2"}}},
   {"data":{"name":"n5"},"mark":{"type":"area","color":"#cce6cc","opacity":1,"clip":true},"encoding":{"y2":{"field":"y2"}}},
   {"data":{"name":"pts"},"transform":[{"filter":"datum.c == 'g'"}],"mark":{"type":"circle","size":165,"opacity":1,"color":"#008000"}},
   {"data":{"name":"pts"},"transform":[{"filter":"datum.c == 'r'"}],"mark":{"type":"circle","size":165,"opacity":1,"color":"#ff0000"}},
   {"data":{"name":"b5"},"mark":{"type":"line","color":"#0000ff","strokeWidth":8,"clip":true,"strokeJoin":"round"},"encoding":{"order":{"field":"i"}}},
   {"data":{"name":"cx"},"transform":[{"filter":"datum.p == 5 && datum.k == 'r'"}],"mark":{"type":"point","shape":"M0,-0.4L0.6,-1L1,-0.6L0.4,0L1,0.6L0.6,1L0,0.4L-0.6,1L-1,0.6L-0.4,0L-1,-0.6L-0.6,-1Z","filled":true,"size":800,"opacity":1,"color":"#dd1177","stroke":"white","strokeWidth":3}},
   {"data":{"name":"cx"},"transform":[{"filter":"datum.p == 5 && datum.k == 'g'"}],"mark":{"type":"point","shape":"M0,-0.4L0.6,-1L1,-0.6L0.4,0L1,0.6L0.6,1L0,0.4L-0.6,1L-1,0.6L-0.4,0L-1,-0.6L-0.6,-1Z","filled":true,"size":800,"opacity":1,"color":"#008000","stroke":"white","strokeWidth":3}}
  ]}
]},
{"bounds":"flush","spacing":60,"hconcat":[
 {"width":608,"height":464,"view":{"stroke":null},
  "data":{"name":"leg"},
  "mark":{"type":"point","size":0,"opacity":0},
  "encoding":{}},
 {"width":1942,"height":464,
  "encoding":{"x":{"field":"t","type":"quantitative","scale":{"domain":[-400,8400],"nice":false,"zero":false},
    "axis":{"values":[0,1000,2000,3000,4000,5000,6000,7000,8000],"format":"d","tickSize":8,"tickWidth":2,"labelFontSize":52,"labelPadding":8,"labelFlush":false,"labelOverlap":false,"title":"Iteration (t)","titleFontSize":52,"titlePadding":6}}},
  "layer":[
   {"data":{"name":"warm"},"mark":{"type":"line","color":"#ffa500","strokeWidth":9,"interpolate":"step-after"},
    "encoding":{"y":{"field":"v","type":"quantitative","scale":{"type":"log","domain":[0.0456,4.12],"nice":false},
      "axis":{"orient":"left","values":[0.1,1],"labelExpr":"datum.value >= 0.5 ? '10⁰' : '10⁻¹'","tickSize":8,"tickWidth":2,"labelFontSize":52,"labelPadding":2,"title":"Outer Loss","titleFontSize":52,"titlePadding":37}}}},
   {"data":{"name":"retrain"},"mark":{"type":"line","color":"#800080","strokeWidth":7,"strokeJoin":"round"},
    "encoding":{"y":{"field":"v","type":"quantitative","scale":{"type":"log","domain":[0.0456,4.12],"nice":false},
      "axis":{"orient":"left","values":[0.05,0.06,0.07,0.08,0.09,0.2,0.3,0.4,0.5,0.6,0.7,0.8,0.9,2,3,4],"tickSize":5,"tickWidth":1.5,"labels":false,"title":null}}}},
   {"data":{"name":"vl"},"mark":{"type":"rule","color":"black","strokeWidth":3.5,"strokeDash":[16,7],"opacity":0.9},"encoding":{}},
   {"data":{"name":"ann"},"transform":[{"filter":"datum.label == 'Re-Train'"}],"mark":{"type":"text","align":"left","baseline":"alphabetic","fontSize":52,"font":"DejaVu Sans","color":"#800080"},
    "encoding":{"y":{"field":"v","type":"quantitative","scale":{"type":"log","domain":[0.0456,4.12],"nice":false},"axis":null},"text":{"field":"label"}}},
   {"data":{"name":"ann"},"transform":[{"filter":"datum.label == 'Warm-Start'"}],"mark":{"type":"text","align":"left","baseline":"alphabetic","fontSize":52,"font":"DejaVu Sans","color":"#ffa500"},
    "encoding":{"y":{"field":"v","type":"quantitative","scale":{"type":"log","domain":[0.0456,4.12],"nice":false},"axis":null},"text":{"field":"label"}}}
  ],
  "resolve":{"axis":{"y":"independent"}}
 }
]}
]
}
